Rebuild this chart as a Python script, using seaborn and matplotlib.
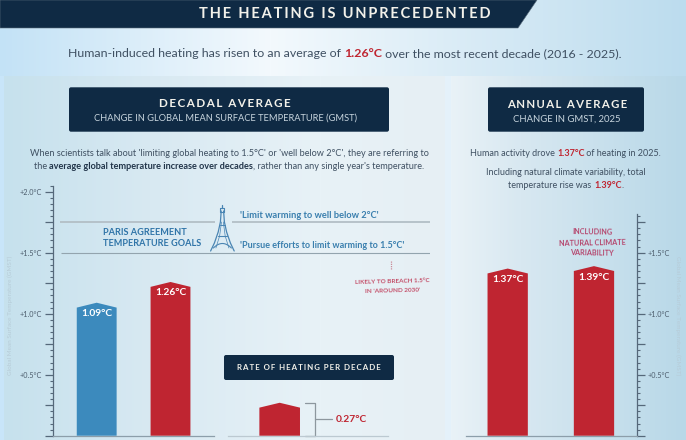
import numpy as np
import pandas as pd
import matplotlib
matplotlib.use("Agg")
import matplotlib.pyplot as plt
import seaborn as sns
from matplotlib.patches import FancyBboxPatch, Polygon
from matplotlib.ticker import MultipleLocator, FuncFormatter

# Chart values (degrees C above pre-industrial)
decadal_periods = ["previous decade", "2016-2025"]
decadal_values = [1.09, 1.26]
decadal_colors = ["#3c8abd", "#bf2531"]
annual_parts = ["human-induced", "total"]
annual_values = [1.37, 1.39]
rate_labels = ["per decade"]
rate_values = [0.27]
goal_well_below = 1.75
goal_pursue = 1.5

W, H = 686, 440
BASE_Y = 435.7          # pixel row of zero
PX_PER_DEG = 122.0
NAVY = "#0f2a44"
RED = "#bf2531"
INK = "#3f5062"
BLUE = "#2f74a8"

sns.set_theme(style="white")
plt.rcParams["font.family"] = ["Lato", "DejaVu Sans"]

fig = plt.figure(figsize=(W / 100, H / 100), dpi=100)


def hex_rgb(c):
    return np.array(matplotlib.colors.to_rgb(c))


def ramp(xs, stops, colors):
    rgb = np.array([hex_rgb(c) for c in colors])
    return np.stack([np.interp(xs, stops, rgb[:, i]) for i in range(3)], axis=1)


# Page background: soft horizontal washes for the page and both panels
xs = np.arange(W)
page = ramp(xs, [0, 270, 686], ["#c3e2f6", "#f3f9fd", "#bcdcee"])
left_panel = ramp(xs, [4, 150, 320, 445], ["#c6e1ed", "#d8e9f2", "#e8f2f7", "#e6eff4"])
right_panel = ramp(xs, [451, 520, 686], ["#e9f2f7", "#d8e8f1", "#b8d8e8"])
lower_page = ramp(xs, [0, 4, 445, 451, 686], ["#c8e5f9", "#c8e5f9", "#e4f1fa", "#e4f1fa", "#e4f1fa"])
bg = np.zeros((H, W, 3))
bg[:, :] = page
bg[76:, :] = lower_page
bg[76:, 4:445] = left_panel[4:445]
bg[76:, 451:] = right_panel[451:]
ax_bg = fig.add_axes([0, 0, 1, 1], zorder=0)
ax_bg.imshow(bg, aspect="auto", extent=(0, W, H, 0), interpolation="bilinear")
ax_bg.axis("off")


def axes_px(x0, x1, ymax):
    """Axes from pixel columns x0..x1, with y running from 0 to ymax on the shared scale."""
    height = ymax * PX_PER_DEG
    ax = fig.add_axes([x0 / W, (H - BASE_Y) / H, (x1 - x0) / W, height / H], zorder=1)
    ax.patch.set_alpha(0)
    ax.set_ylim(0, ymax)
    return ax


def roofed_bars(ax, shoulder=0.04):
    """Swap each rectangular bar for one with a shallow pitched top."""
    for bar in list(ax.patches):
        x, w, h = bar.get_x(), bar.get_width(), bar.get_height()
        pts = [(x, 0), (x, h - shoulder), (x + w / 2, h), (x + w, h - shoulder), (x + w, 0)]
        ax.add_patch(Polygon(pts, closed=True, facecolor=bar.get_facecolor(), edgecolor="none", zorder=3))
        bar.remove()


def style_scale(ax, right=False):
    ax.yaxis.set_major_locator(MultipleLocator(0.25))
    ax.yaxis.set_minor_locator(MultipleLocator(0.05))
    ax.yaxis.set_major_formatter(FuncFormatter(
        lambda v, _: f"+{v:.1f}°C" if v > 0 and abs(v * 2 - round(v * 2)) < 1e-6 else ""))
    sides = dict(left=not right, right=right, labelleft=not right, labelright=right)
    ax.tick_params(axis="y", which="major", length=5.5, width=0.9, color="#55687a",
                   labelsize=5.2, labelcolor="#4c5c6c", pad=2.5, **sides)
    ax.tick_params(axis="y", which="minor", length=2.4, width=0.8, color="#55687a",
                   left=not right, right=right)
    ax.tick_params(axis="x", length=0, labelbottom=False)
    ax.set_xlabel("")


# Decadal bars
ax_dec = axes_px(53.3, 430, 2.05)
sns.barplot(x=decadal_periods, y=decadal_values, hue=decadal_periods, palette=decadal_colors,
            legend=False, width=0.54, saturation=1, ax=ax_dec)
ax_dec.set_xlim(-0.588, 4.516)
roofed_bars(ax_dec)
sns.despine(ax=ax_dec, top=True, right=True)
style_scale(ax_dec)
ax_dec.spines["left"].set(color="#55687a", linewidth=0.9)
ax_dec.spines["bottom"].set(color="#8c9eaa", linewidth=0.9)
ax_dec.spines["bottom"].set_bounds(-0.588, 1.589)
for i, v in enumerate(decadal_values):
    ax_dec.text(i, v - 0.09, f"{v:.2f}°C", color="white", ha="center", va="center",
                fontsize=7.4, fontweight="bold", zorder=4)
ax_dec.set_ylabel("Global Mean Surface Temperature (GMST)", fontsize=4.6, color="#b7ccd8")
ax_dec.yaxis.set_label_coords((13 - 53.3) / 376.7, (BASE_Y - 315) / 250.1)

# Paris goal lines, given as fractions of the axes width
to_frac = lambda px: (px - 53.3) / 376.7
trans = ax_dec.get_yaxis_transform()
for a, b in [(60, 215), (232, 430)]:
    ax_dec.hlines(goal_well_below, to_frac(a), to_frac(b), transform=trans, color="#b3bfc6", lw=1.3)
ax_dec.hlines(goal_pursue, to_frac(61), to_frac(430), transform=trans, color="#93a4ae", lw=0.8)

# Rate of heating bar
ax_rate = axes_px(228, 388, 0.3)
sns.barplot(x=rate_labels, y=rate_values, color=RED, width=0.55, saturation=1, ax=ax_rate)
ax_rate.set_xlim(-0.70, 1.467)
roofed_bars(ax_rate)
ax_rate.set_yticks([])
ax_rate.set_ylabel("")
ax_rate.tick_params(axis="x", length=0, labelbottom=False)
ax_rate.set_xlabel("")
sns.despine(ax=ax_rate, top=True, right=True, left=True)
ax_rate.spines["bottom"].set(color="#bcc9d1", linewidth=0.9)
bracket = rate_values[0]
ax_rate.plot([0.343, 0.478, 0.478, 0.343], [bracket, bracket, 0, 0], color="#8d979e", lw=0.9, clip_on=False)
ax_rate.plot([0.478, 0.709], [bracket / 2, bracket / 2], color="#8d979e", lw=0.9)
ax_rate.text(0.76, bracket / 2, f"{bracket:.2f}°C", color=RED, fontsize=7.4, fontweight="bold",
             ha="left", va="center")

# Annual bars
ax_ann = axes_px(466, 636.7, 1.82)
sns.barplot(x=annual_parts, y=annual_values, color=RED, width=0.467, saturation=1, ax=ax_ann)
ax_ann.set_xlim(-0.483, 1.495)
roofed_bars(ax_ann)
sns.despine(ax=ax_ann, top=True, left=True, right=False)
style_scale(ax_ann, right=True)
ax_ann.spines["right"].set(color="#55687a", linewidth=0.9)
ax_ann.spines["bottom"].set(color="#8c9eaa", linewidth=0.9)
for i, v in enumerate(annual_values):
    ax_ann.text(i, v - 0.09, f"{v:.2f}°C", color="white", ha="center", va="center",
                fontsize=7.4, fontweight="bold", zorder=4)
ax_ann.yaxis.set_label_position("right")
ax_ann.set_ylabel("Global Mean Surface Temperature (GMST)", fontsize=4.6, color="#b7ccd8",
                  rotation=270, va="center")
ax_ann.yaxis.set_label_coords((678 - 466) / 170.7, (BASE_Y - 315.5) / 222.0)

# Layer for headers, copy and the tower, measured in pixels
ov = fig.add_axes([0, 0, 1, 1], zorder=2)
ov.set_xlim(0, W)
ov.set_ylim(H, 0)
ov.axis("off")


def spaced(s, gap="\u2009"):
    return gap.join(s)


def box(x0, y0, x1, y1):
    ov.add_patch(FancyBboxPatch((x0 + 2, y0 + 2), x1 - x0 - 4, y1 - y0 - 4,
                                boxstyle="round,pad=2,rounding_size=2", fc=NAVY, ec="none"))


def rich_line(parts, cx, y, size):
    """Centre a line made of (text, colour, weight) runs."""
    renderer = fig.canvas.get_renderer()
    placed, widths = [], []
    for text, color, weight in parts:
        t = ov.text(0, y, text, color=color, fontweight=weight, fontsize=size, ha="left", va="center")
        t.set_parse_math(False)
        # Measure with trailing blanks kept by padding with a visible character
        probe = ov.text(0, y, text.replace(" ", "\u00a0"), fontweight=weight, fontsize=size)
        bb = probe.get_window_extent(renderer)
        widths.append(bb.width)
        probe.remove()
        placed.append(t)
    x = cx - sum(widths) / 2
    for t, w in zip(placed, widths):
        t.set_x(x)
        x += w


ov.add_patch(Polygon([(0, 0), (537, 0), (518, 28), (0, 28)], closed=True, fc=NAVY, ec="#5d6f7e", lw=0.4))
ov.text(345, 14, spaced("THE HEATING IS UNPRECEDENTED"), color="#f2f1ea", fontsize=10.5,
        fontweight="bold", ha="center", va="center")
rich_line([("Human-induced heating has risen to an average of ", INK, "normal"),
           ("1.26°C", RED, "bold"),
           (" over the most recent decade (2016 - 2025).", INK, "normal")], 345, 53.7, 8.95)

box(69, 87.3, 389, 131.7)
ov.text(225.3, 103.7, spaced("DECADAL AVERAGE"), color="#f2f1ea", fontsize=8.4, fontweight="bold",
        ha="center", va="center")
ov.text(225.3, 118, "CHANGE IN GLOBAL MEAN SURFACE TEMPERATURE (GMST)", color="#c8d5de", fontsize=6.7,
        ha="center", va="center")
rich_line([("When scientists talk about 'limiting global heating to 1.5°C' or 'well below 2°C', they are referring to",
            INK, "normal")], 229.5, 153, 6.55)
rich_line([("the ", INK, "normal"), ("average global temperature increase over decades", "#22354a", "bold"),
           (", rather than any single year's temperature.", INK, "normal")], 229, 166.7, 6.55)

box(488, 87.3, 644, 131.7)
ov.text(567, 105, spaced("ANNUAL AVERAGE"), color="#f2f1ea", fontsize=8.2, fontweight="bold",
        ha="center", va="center")
ov.text(567, 118.7, "CHANGE IN GMST, 2025", color="#c8d5de", fontsize=6.8, ha="center", va="center")
rich_line([("Human activity drove ", INK, "normal"), ("1.37°C", RED, "bold"),
           (" of heating in 2025.", INK, "normal")], 565.5, 153, 6.5)
rich_line([("Including natural climate variability, total", INK, "normal")], 566, 172.3, 6.5)
rich_line([("temperature rise was ", INK, "normal"), ("1.39°C", RED, "bold"), (".", INK, "normal")], 566, 186, 6.5)

ov.text(103.3, 232.3, "PARIS AGREEMENT", color=BLUE, fontsize=6.6, fontweight="bold", ha="left", va="center")
ov.text(103.3, 243, "TEMPERATURE GOALS", color=BLUE, fontsize=6.6, fontweight="bold", ha="left", va="center")
ov.text(240, 216, "'Limit warming to well below 2°C'", color="#3a7fae", fontsize=6.7, fontweight="bold",
        ha="left", va="center")
ov.text(240, 246, "'Pursue efforts to limit warming to 1.5°C'", color="#3a7fae", fontsize=6.45, fontweight="bold",
        ha="left", va="center")

# Eiffel tower outline
tower = "#4a85b3"
for side in (-1, 1):
    xs_leg = [222.4 + side * d for d in (11.8, 8, 4.2, 2, 1.2)]
    ov.plot(xs_leg, [251, 243, 232, 222, 211], color=tower, lw=0.9)
    ov.plot([222.4 + side * d for d in (6.5, 2.8, 0.9)], [248, 236, 222], color=tower, lw=0.5)
arch = np.linspace(-9, 9, 24)
ov.plot(222.4 + arch, 243.5 + 4.5 * (arch / 9) ** 2, color=tower, lw=0.8)
ov.plot([217.5, 227.3], [236, 236], color=tower, lw=0.8)
ov.plot([219.8, 225], [225, 225], color=tower, lw=0.7)
ov.plot([220.4, 224.4, 224.4, 220.4, 220.4], [208.5, 208.5, 212, 212, 208.5], color=tower, lw=0.8)
ov.plot([222.4, 222.4], [205, 208.5], color=tower, lw=0.9)

# Breach note
breach = "#c4506a"
ov.plot([391, 391], [261, 270], color="#c98c98", lw=0.9, ls=(0, (1, 0.8)))
ov.text(392.7, 281.7, "LIKELY TO BREACH 1.5°C", color=breach, fontsize=4.6, fontweight="bold",
        ha="center", va="center", rotation=1.5)
ov.text(392.7, 291, "IN 'AROUND 2030'", color=breach, fontsize=4.6, fontweight="bold",
        ha="center", va="center", rotation=1.5)

box(224, 355, 394, 380)
ov.text(309, 368, spaced("RATE OF HEATING PER DECADE"), color="#f2f1ea", fontsize=5.7, fontweight="bold",
        ha="center", va="center")

note = "#b5486f"
for y, line, rot in [(232, "INCLUDING", -1), (243, "NATURAL CLIMATE", 1), (253, "VARIABILITY", -1)]:
    ov.text(592, y, line, color=note, fontsize=5.2, fontweight="bold", ha="center", va="center", rotation=rot)

fig.savefig("out.png", dpi=100)
